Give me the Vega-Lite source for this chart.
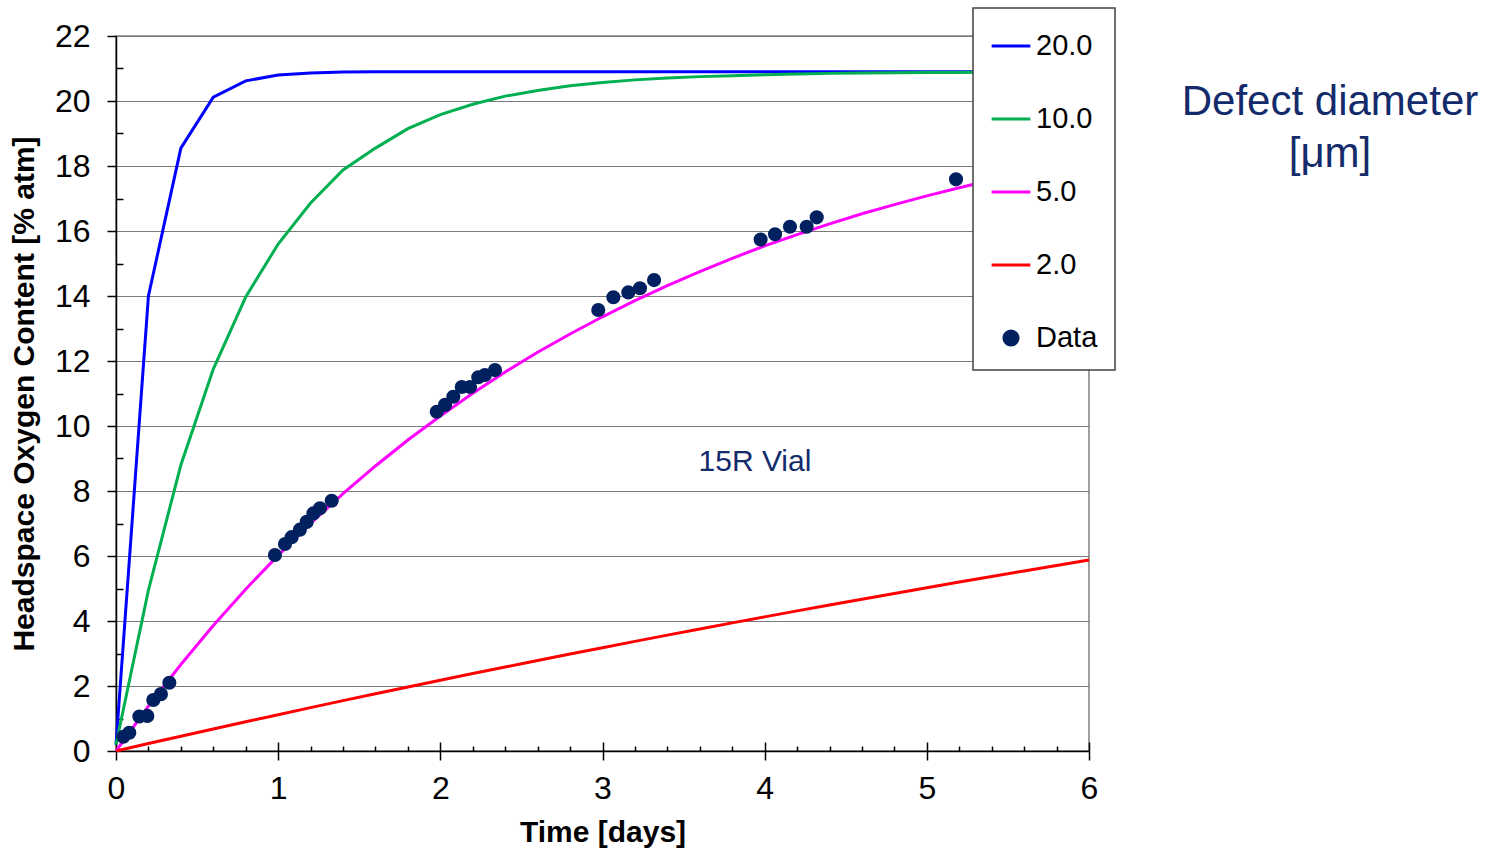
{
  "$schema": "https://vega.github.io/schema/vega-lite/v6.json",
  "width": 973,
  "height": 715,
  "autosize": {"type": "none"},
  "padding": {"left": 116, "top": 36, "right": 408, "bottom": 98},
  "background": "white",
  "title": {
    "text": ["Defect diameter", "[μm]"],
    "orient": "top",
    "anchor": "start",
    "frame": "group",
    "align": "center",
    "baseline": "top",
    "offset": 0,
    "dx": 1214,
    "dy": 169,
    "fontSize": 42,
    "fontWeight": "normal",
    "color": "#132B6B",
    "lineHeight": 52
  },
  "config": {
    "font": "Liberation Sans",
    "view": {"stroke": "#808080", "strokeWidth": 1.5}
  },
  "datasets": {
    "curves": [
      {"t": 0, "o2": 0.2, "series": "20.0"}, {"t": 0.2, "o2": 14.0, "series": "20.0"}, {"t": 0.4, "o2": 18.55, "series": "20.0"},
      {"t": 0.6, "o2": 20.12, "series": "20.0"}, {"t": 0.8, "o2": 20.62, "series": "20.0"}, {"t": 1.0, "o2": 20.8, "series": "20.0"},
      {"t": 1.2, "o2": 20.86, "series": "20.0"}, {"t": 1.4, "o2": 20.89, "series": "20.0"}, {"t": 1.6, "o2": 20.9, "series": "20.0"},
      {"t": 2.0, "o2": 20.9, "series": "20.0"}, {"t": 3.0, "o2": 20.9, "series": "20.0"}, {"t": 4.0, "o2": 20.9, "series": "20.0"},
      {"t": 5.0, "o2": 20.9, "series": "20.0"}, {"t": 6.0, "o2": 20.9, "series": "20.0"},

      {"t": 0, "o2": 0.2, "series": "10.0"}, {"t": 0.2, "o2": 4.95, "series": "10.0"}, {"t": 0.4, "o2": 8.8, "series": "10.0"},
      {"t": 0.6, "o2": 11.75, "series": "10.0"}, {"t": 0.8, "o2": 13.97, "series": "10.0"}, {"t": 1.0, "o2": 15.6, "series": "10.0"},
      {"t": 1.2, "o2": 16.86, "series": "10.0"}, {"t": 1.4, "o2": 17.88, "series": "10.0"}, {"t": 1.6, "o2": 18.55, "series": "10.0"},
      {"t": 1.8, "o2": 19.15, "series": "10.0"}, {"t": 2.0, "o2": 19.58, "series": "10.0"}, {"t": 2.2, "o2": 19.9, "series": "10.0"},
      {"t": 2.4, "o2": 20.15, "series": "10.0"}, {"t": 2.6, "o2": 20.32, "series": "10.0"}, {"t": 2.8, "o2": 20.47, "series": "10.0"},
      {"t": 3.0, "o2": 20.57, "series": "10.0"}, {"t": 3.2, "o2": 20.65, "series": "10.0"}, {"t": 3.4, "o2": 20.71, "series": "10.0"},
      {"t": 3.6, "o2": 20.75, "series": "10.0"}, {"t": 3.8, "o2": 20.78, "series": "10.0"}, {"t": 4.0, "o2": 20.81, "series": "10.0"},
      {"t": 4.2, "o2": 20.83, "series": "10.0"}, {"t": 4.4, "o2": 20.85, "series": "10.0"}, {"t": 4.6, "o2": 20.86, "series": "10.0"},
      {"t": 4.8, "o2": 20.87, "series": "10.0"}, {"t": 5.0, "o2": 20.88, "series": "10.0"}, {"t": 5.2, "o2": 20.88, "series": "10.0"},
      {"t": 5.4, "o2": 20.89, "series": "10.0"}, {"t": 5.6, "o2": 20.89, "series": "10.0"}, {"t": 5.8, "o2": 20.9, "series": "10.0"},
      {"t": 6.0, "o2": 20.9, "series": "10.0"},

      {"t": 0, "o2": 0, "series": "5.0"}, {"t": 0.2, "o2": 1.38, "series": "5.0"}, {"t": 0.4, "o2": 2.66, "series": "5.0"},
      {"t": 0.6, "o2": 3.86, "series": "5.0"}, {"t": 0.8, "o2": 4.98, "series": "5.0"}, {"t": 1.0, "o2": 6.02, "series": "5.0"},
      {"t": 1.2, "o2": 7.0, "series": "5.0"}, {"t": 1.4, "o2": 7.92, "series": "5.0"}, {"t": 1.6, "o2": 8.77, "series": "5.0"},
      {"t": 1.8, "o2": 9.57, "series": "5.0"}, {"t": 2.0, "o2": 10.31, "series": "5.0"}, {"t": 2.2, "o2": 11.01, "series": "5.0"},
      {"t": 2.4, "o2": 11.66, "series": "5.0"}, {"t": 2.6, "o2": 12.27, "series": "5.0"}, {"t": 2.8, "o2": 12.83, "series": "5.0"},
      {"t": 3.0, "o2": 13.36, "series": "5.0"}, {"t": 3.2, "o2": 13.86, "series": "5.0"}, {"t": 3.4, "o2": 14.32, "series": "5.0"},
      {"t": 3.6, "o2": 14.75, "series": "5.0"}, {"t": 3.8, "o2": 15.16, "series": "5.0"}, {"t": 4.0, "o2": 15.54, "series": "5.0"},
      {"t": 4.2, "o2": 15.89, "series": "5.0"}, {"t": 4.4, "o2": 16.22, "series": "5.0"}, {"t": 4.6, "o2": 16.53, "series": "5.0"},
      {"t": 4.8, "o2": 16.81, "series": "5.0"}, {"t": 5.0, "o2": 17.08, "series": "5.0"}, {"t": 5.2, "o2": 17.33, "series": "5.0"},
      {"t": 5.4, "o2": 17.57, "series": "5.0"}, {"t": 5.6, "o2": 17.79, "series": "5.0"}, {"t": 5.8, "o2": 17.99, "series": "5.0"},
      {"t": 6.0, "o2": 18.18, "series": "5.0"},

      {"t": 0, "o2": 0, "series": "2.0"}, {"t": 0.2, "o2": 0.23, "series": "2.0"}, {"t": 0.4, "o2": 0.455, "series": "2.0"},
      {"t": 0.6, "o2": 0.678, "series": "2.0"}, {"t": 0.8, "o2": 0.9, "series": "2.0"}, {"t": 1.0, "o2": 1.118, "series": "2.0"},
      {"t": 1.2, "o2": 1.335, "series": "2.0"}, {"t": 1.4, "o2": 1.549, "series": "2.0"}, {"t": 1.6, "o2": 1.761, "series": "2.0"},
      {"t": 1.8, "o2": 1.97, "series": "2.0"}, {"t": 2.0, "o2": 2.177, "series": "2.0"}, {"t": 2.2, "o2": 2.382, "series": "2.0"},
      {"t": 2.4, "o2": 2.585, "series": "2.0"}, {"t": 2.6, "o2": 2.785, "series": "2.0"}, {"t": 2.8, "o2": 2.983, "series": "2.0"},
      {"t": 3.0, "o2": 3.179, "series": "2.0"}, {"t": 3.2, "o2": 3.373, "series": "2.0"}, {"t": 3.4, "o2": 3.565, "series": "2.0"},
      {"t": 3.6, "o2": 3.754, "series": "2.0"}, {"t": 3.8, "o2": 3.942, "series": "2.0"}, {"t": 4.0, "o2": 4.127, "series": "2.0"},
      {"t": 4.2, "o2": 4.311, "series": "2.0"}, {"t": 4.4, "o2": 4.492, "series": "2.0"}, {"t": 4.6, "o2": 4.672, "series": "2.0"},
      {"t": 4.8, "o2": 4.849, "series": "2.0"}, {"t": 5.0, "o2": 5.025, "series": "2.0"}, {"t": 5.2, "o2": 5.199, "series": "2.0"},
      {"t": 5.4, "o2": 5.37, "series": "2.0"}, {"t": 5.6, "o2": 5.54, "series": "2.0"}, {"t": 5.8, "o2": 5.708, "series": "2.0"},
      {"t": 6.0, "o2": 5.875, "series": "2.0"}
    ],
    "measured": [
      {"t": 0.045, "o2": 0.44}, {"t": 0.082, "o2": 0.56}, {"t": 0.144, "o2": 1.06}, {"t": 0.193, "o2": 1.08},
      {"t": 0.23, "o2": 1.57}, {"t": 0.277, "o2": 1.75}, {"t": 0.329, "o2": 2.1},
      {"t": 0.98, "o2": 6.03}, {"t": 1.042, "o2": 6.37}, {"t": 1.083, "o2": 6.58}, {"t": 1.134, "o2": 6.81},
      {"t": 1.176, "o2": 7.05}, {"t": 1.217, "o2": 7.31}, {"t": 1.258, "o2": 7.47}, {"t": 1.33, "o2": 7.7},
      {"t": 1.978, "o2": 10.44}, {"t": 2.029, "o2": 10.65}, {"t": 2.08, "o2": 10.9}, {"t": 2.132, "o2": 11.2},
      {"t": 2.183, "o2": 11.2}, {"t": 2.234, "o2": 11.5}, {"t": 2.275, "o2": 11.57}, {"t": 2.337, "o2": 11.72},
      {"t": 2.974, "o2": 13.57}, {"t": 3.067, "o2": 13.96}, {"t": 3.159, "o2": 14.11}, {"t": 3.231, "o2": 14.24},
      {"t": 3.318, "o2": 14.49},
      {"t": 3.975, "o2": 15.74}, {"t": 4.064, "o2": 15.9}, {"t": 4.156, "o2": 16.13}, {"t": 4.259, "o2": 16.13},
      {"t": 4.321, "o2": 16.42},
      {"t": 5.18, "o2": 17.59}
    ],
    "annotation": [
      {"t": 3.94, "o2": 8.89, "label": "15R Vial"}
    ]
  },
  "layer": [
    {
      "data": {"name": "curves"},
      "mark": {"type": "line", "strokeWidth": 3},
      "encoding": {
        "x": {
          "field": "t", "type": "quantitative",
          "scale": {"domain": [0, 6], "nice": false, "zero": false},
          "axis": {
            "orient": "bottom",
            "values": [0, 1, 2, 3, 4, 5, 6],
            "format": "d",
            "grid": false,
            "domainColor": "black", "domainWidth": 1.5,
            "tickColor": "black", "tickWidth": 1.5, "tickSize": 9,
            "labelFontSize": 32, "labelColor": "black", "labelPadding": 13, "labelFlush": false,
            "title": "Time [days]",
            "titleFontSize": 30, "titleFontWeight": "bold", "titleColor": "black", "titlePadding": 13
          }
        },
        "y": {
          "field": "o2", "type": "quantitative",
          "scale": {"domain": [0, 22], "nice": false, "zero": true},
          "axis": {
            "orient": "left",
            "values": [0, 2, 4, 6, 8, 10, 12, 14, 16, 18, 20, 22],
            "format": "d",
            "grid": true, "gridColor": "#7a7a7a", "gridWidth": 1.2,
            "domainColor": "black", "domainWidth": 1.5,
            "tickColor": "black", "tickWidth": 1.5, "tickSize": 9,
            "labelFontSize": 32, "labelColor": "black", "labelPadding": 17, "labelFlush": false,
            "title": "Headspace Oxygen Content [% atm]",
            "titleFontSize": 30, "titleFontWeight": "bold", "titleColor": "black", "titlePadding": 15
          }
        },
        "color": {
          "field": "series", "type": "nominal",
          "scale": {
            "domain": ["20.0", "10.0", "5.0", "2.0", "Data"],
            "range": ["#0000FF", "#00B050", "#FF00FF", "#FF0000", "#002060"]
          },
          "legend": {
            "title": null,
            "orient": "none",
            "legendX": 857,
            "legendY": -28,
            "direction": "vertical",
            "padding": 17,
            "rowPadding": 37,
            "fillColor": "white",
            "strokeColor": "#404040",
            "labelFontSize": 29,
            "labelColor": "black",
            "labelOffset": 4,
            "symbolType": "stroke",
            "symbolSize": 1500,
            "symbolStrokeWidth": 3,
            "encode": {
              "legend": {
                "update": {
                  "strokeWidth": {"value": 1.5}
                }
              },
              "symbols": {
                "update": {
                  "shape": {"signal": "datum.value === 'Data' ? 'circle' : 'stroke'"},
                  "size": {"signal": "datum.value === 'Data' ? 200 : 1500"},
                  "fill": {"signal": "datum.value === 'Data' ? '#002060' : 'transparent'"},
                  "stroke": {"signal": "datum.value === 'Data' ? 'transparent' : scale('color', datum.value)"},
                  "strokeWidth": {"value": 3},
                  "opacity": {"value": 1}
                }
              }
            }
          }
        }
      }
    },
    {
      "data": {"name": "measured"},
      "mark": {"type": "point", "filled": true, "size": 200, "color": "#002060", "opacity": 1},
      "encoding": {
        "x": {
          "field": "t", "type": "quantitative",
          "axis": {
            "orient": "bottom",
            "values": [0.2, 0.4, 0.6, 0.8, 1.2, 1.4, 1.6, 1.8, 2.2, 2.4, 2.6, 2.8, 3.2, 3.4, 3.6, 3.8, 4.2, 4.4, 4.6, 4.8, 5.2, 5.4, 5.6, 5.8],
            "tickSize": -5, "tickColor": "black", "tickWidth": 1.5,
            "labels": false, "domain": false, "grid": false, "title": null
          }
        },
        "y": {
          "field": "o2", "type": "quantitative",
          "axis": {
            "orient": "left",
            "values": [1, 3, 5, 7, 9, 11, 13, 15, 17, 19, 21],
            "tickSize": -7, "tickColor": "black", "tickWidth": 1.5,
            "labels": false, "domain": false, "grid": false, "title": null
          }
        }
      }
    },
    {
      "data": {"name": "annotation"},
      "mark": {"type": "text", "fontSize": 30, "color": "#132B6B", "align": "center", "baseline": "middle"},
      "encoding": {
        "x": {
          "field": "t", "type": "quantitative",
          "axis": {
            "orient": "bottom",
            "values": [1, 2, 3, 4, 5, 6],
            "tickSize": -9, "tickColor": "black", "tickWidth": 1.5,
            "labels": false, "domain": false, "grid": false, "title": null
          }
        },
        "y": {"field": "o2", "type": "quantitative", "axis": null},
        "text": {"field": "label"}
      }
    }
  ],
  "resolve": {"axis": {"x": "independent", "y": "independent"}}
}
